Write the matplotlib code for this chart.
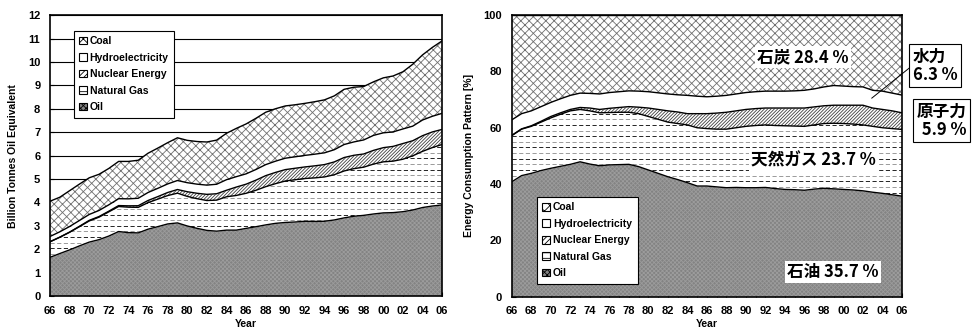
import matplotlib
matplotlib.use("Agg")
import matplotlib.pyplot as plt
import matplotlib.patches as mpatches
import numpy as np

plt.rcParams['font.family'] = ['Liberation Sans', 'DejaVu Sans']
plt.rcParams['font.weight'] = 'bold'
plt.rcParams['hatch.linewidth'] = 0.6

years = np.arange(1966, 2007)

# world primary energy consumption, billion tonnes oil equivalent
total = [4.05, 4.22, 4.50, 4.78, 5.05, 5.20, 5.45, 5.75, 5.75, 5.80,
         6.10, 6.32, 6.55, 6.76, 6.65, 6.60, 6.58, 6.66, 6.95, 7.16,
         7.35, 7.59, 7.85, 8.00, 8.12, 8.17, 8.23, 8.30, 8.38, 8.55,
         8.83, 8.92, 8.95, 9.15, 9.32, 9.40, 9.58, 9.90, 10.30, 10.62, 10.90]

# shares in %
oil_pct = [40.8, 43.0, 43.8, 44.8, 45.6, 46.3, 47.0, 47.9, 47.1, 46.5,
           46.8, 46.9, 47.0, 46.2, 45.0, 43.8, 42.6, 41.6, 40.5, 39.3,
           39.3, 39.0, 38.7, 38.8, 38.7, 38.7, 38.8, 38.4, 38.1, 38.0,
           37.8, 38.2, 38.5, 38.3, 38.1, 37.9, 37.6, 37.1, 36.7, 36.2, 35.7]
gas_pct = [16.4, 16.5, 16.7, 17.2, 17.9, 18.5, 19.0, 18.6, 18.9, 18.8,
           18.6, 18.6, 18.5, 18.8, 19.0, 19.2, 19.4, 19.9, 20.5, 20.7,
           20.4, 20.5, 20.8, 21.2, 21.8, 22.1, 22.2, 22.4, 22.6, 22.6,
           22.7, 22.8, 23.0, 23.3, 23.4, 23.4, 23.4, 23.4, 23.3, 23.5, 23.7]
nuclear_pct = [0.1, 0.1, 0.2, 0.3, 0.5, 0.5, 0.5, 0.7, 1.0, 1.2,
               1.5, 1.7, 2.0, 2.3, 3.0, 3.5, 4.0, 4.1, 4.0, 5.0,
               5.3, 5.7, 6.0, 6.0, 6.0, 6.0, 6.0, 6.2, 6.3, 6.4,
               6.5, 6.4, 6.3, 6.4, 6.5, 6.7, 7.0, 6.5, 6.5, 6.3, 5.9]
hydro_pct = [5.5, 5.4, 5.3, 5.2, 5.0, 5.0, 5.0, 5.1, 5.2, 5.5,
             5.6, 5.6, 5.6, 5.7, 5.8, 5.9, 6.0, 6.1, 6.5, 6.2,
             6.0, 6.0, 6.0, 6.0, 6.0, 6.0, 6.0, 6.0, 6.0, 6.1,
             6.3, 6.4, 6.7, 7.0, 6.8, 6.6, 6.5, 6.3, 6.5, 6.3, 6.3]
coal_pct = [37.2, 35.0, 34.0, 32.5, 31.0, 29.7, 28.5, 27.7, 27.8, 28.0,
            27.5, 27.2, 26.9, 27.0, 27.2, 27.6, 28.0, 28.3, 28.5, 28.8,
            29.0, 28.8, 28.5, 28.0, 27.5, 27.2, 27.0, 27.0, 27.0, 26.9,
            26.7, 26.2, 25.5, 25.0, 25.2, 25.4, 25.5, 26.7, 27.0, 27.7, 28.4]

fuels = ['Oil', 'Natural Gas', 'Nuclear Energy', 'Hydroelectricity', 'Coal']

shares = np.array([oil_pct, gas_pct, nuclear_pct, hydro_pct, coal_pct])
shares = shares / shares.sum(axis=0)
amounts = shares * np.array(total)

styles = {
    'Oil': dict(facecolor='#838383', hatch='xxxxxxxx', hcolor='#9c9c9c'),
    'Natural Gas': dict(facecolor='white', hatch=None, hcolor='black'),
    'Nuclear Energy': dict(facecolor='white', hatch='//////////', hcolor='#404040'),
    'Hydroelectricity': dict(facecolor='white', hatch=None, hcolor='black'),
    'Coal': dict(facecolor='white', hatch='xxxx', hcolor='#707070'),
}
leg_hatch = {'Oil': 'xxxxxx', 'Natural Gas': '---', 'Nuclear Energy': '//////',
             'Hydroelectricity': None, 'Coal': 'xxx'}


def draw_stack(ax, values):
    cum = np.cumsum(values, axis=0)
    lower = np.zeros(len(years))
    for i, name in enumerate(fuels):
        st = styles[name]
        poly = ax.fill_between(years, lower, cum[i], facecolor=st['facecolor'],
                               edgecolor=st['hcolor'], hatch=st['hatch'],
                               linewidth=0, zorder=2)
        if name == 'Natural Gas':
            path = poly.get_paths()[0]
            for k, yf in enumerate(np.arange(0.01, 1.0, 0.02)):
                ln, = ax.plot([0, 1], [yf, yf], transform=ax.transAxes,
                              color='black' if k % 2 == 0 else '#8a8a8a',
                              lw=0.6, dashes=(5, 3), zorder=3)
                ln.set_clip_path(path, ax.transData)
        lower = cum[i]
    for i in range(len(fuels)):
        ax.plot(years, cum[i], color='black', lw=1.0, zorder=4)


def legend_handles():
    hs = []
    for name in ['Coal', 'Hydroelectricity', 'Nuclear Energy', 'Natural Gas', 'Oil']:
        fc = styles[name]['facecolor']
        hs.append(mpatches.Patch(facecolor=fc, edgecolor='black',
                                 hatch=leg_hatch[name], linewidth=0.8, label=name))
    return hs


def style_axes(ax):
    for sp in ax.spines.values():
        sp.set_linewidth(1.2)
        sp.set_zorder(6)
    ax.set_xlim(1966, 2006)
    ax.set_xticks(years[::2])
    ax.set_xticklabels([f"{y % 100:02d}" for y in years[::2]])
    ax.tick_params(direction='in', labelsize=8, length=3, pad=7)
    for lab in ax.get_xticklabels() + ax.get_yticklabels():
        lab.set_fontweight('bold')
    ax.set_xlabel('Year', fontsize=7.5, fontweight='bold', labelpad=2)


def add_legend(ax, anchor):
    leg = ax.legend(handles=legend_handles(), loc='upper left',
                    bbox_to_anchor=anchor, fancybox=False,
                    framealpha=1, edgecolor='black', handlelength=0.75,
                    handleheight=0.75, handletextpad=0.25, labelspacing=0.62,
                    borderpad=0.55, borderaxespad=0,
                    prop=dict(size=7.5, weight='bold'))
    leg.get_frame().set_linewidth(0.8)
    leg.set_zorder(7)


fig = plt.figure(figsize=(9.73, 3.36), dpi=100)
ax1 = fig.add_axes([0.0514, 0.119, 0.403, 0.836])
ax2 = fig.add_axes([0.526, 0.117, 0.401, 0.838])

# left: absolute
draw_stack(ax1, amounts)
ax1.set_ylim(0, 12)
ax1.set_yticks(range(0, 13))
style_axes(ax1)
ax1.yaxis.grid(True, color='black', lw=0.8)
ax1.set_axisbelow(True)
ax1.set_ylabel('Billion Tonnes Oil Equivalent', fontsize=7.5,
               fontweight='bold', labelpad=7)
add_legend(ax1, (0.06, 0.945))

# right: percentage
draw_stack(ax2, shares * 100)
ax2.set_ylim(0, 100)
ax2.set_yticks(range(0, 101, 20))
style_axes(ax2)
ax2.set_xticks(years, minor=True)
ax2.tick_params(which='minor', direction='in', length=3)
ax2.set_ylabel('Energy Consumption Pattern [%]', fontsize=7.5,
               fontweight='bold', labelpad=7)
add_legend(ax2, (0.064, 0.355))

jp = ['Noto Sans CJK JP', 'DejaVu Sans']
box = dict(facecolor='white', edgecolor='none', pad=1.5)
ax2.text(0.746, 0.851, '石炭 28.4 %', transform=ax2.transAxes, ha='center',
         va='center', fontsize=12, family=jp, bbox=box, zorder=8)
ax2.text(0.774, 0.485, '天然ガス 23.7 %', transform=ax2.transAxes, ha='center',
         va='center', fontsize=12, family=jp, bbox=box, zorder=8)
ax2.text(0.823, 0.088, '石油 35.7 %', transform=ax2.transAxes, ha='center',
         va='center', fontsize=12, family=jp, bbox=box, zorder=8)

obox = dict(facecolor='white', edgecolor='black', lw=0.8, pad=2.5)
fig.text(0.961, 0.804, '水力\n6.3 %', ha='center', va='center',
         multialignment='left', fontsize=12, family=jp, bbox=obox,
         linespacing=1.0)
fig.text(0.968, 0.640, '原子力\n 5.9 %', ha='center', va='center',
         multialignment='center', fontsize=12, family=jp, bbox=obox,
         linespacing=1.0)
fig.add_artist(plt.Line2D([0.936, 0.896], [0.801, 0.708], color='black',
                          lw=0.7, transform=fig.transFigure))

fig.savefig('out.png', dpi=100)
